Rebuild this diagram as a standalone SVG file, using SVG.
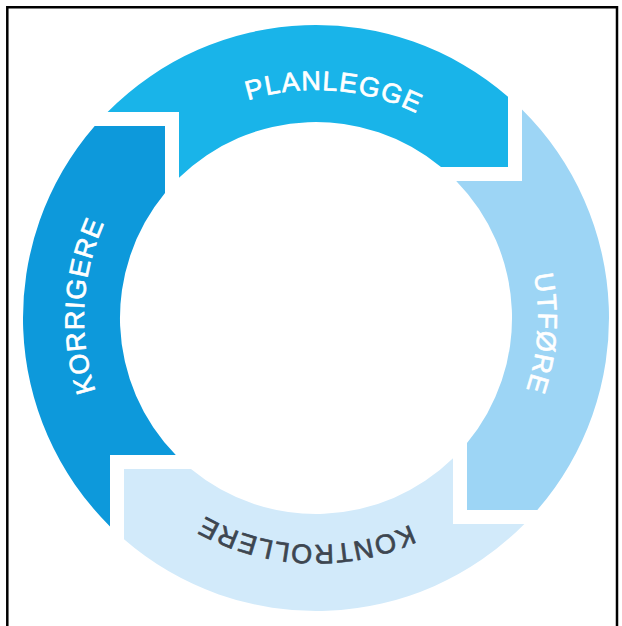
<svg xmlns="http://www.w3.org/2000/svg" xmlns:xlink="http://www.w3.org/1999/xlink" width="622" height="626" viewBox="0 0 622 626">
<style>
.lbl{font-family:"Liberation Sans",Arial,sans-serif;font-size:27px;letter-spacing:1.2px;text-anchor:middle;stroke-width:0.7px;stroke-linejoin:round}
.w{fill:#ffffff;stroke:#ffffff}
.d{fill:#3d4650;stroke:#3d4650}
.frame{fill:none;stroke:#000;stroke-width:2.5}
</style>
<defs>
<path id="tpPlan" d="M128.1,188.9 A228,228 0 0 1 521.8,219.8"/>
<path id="tpUtf" d="M439.8,133.7 A222,222 0 0 1 413.7,517.4"/>
<path id="tpKon" d="M507.5,440 A227,227 0 0 1 114.7,422.8"/>
<path id="tpKor" d="M189.6,512.6 A232,232 0 0 1 210.7,111.3"/>
</defs>
<rect width="622" height="626" fill="#ffffff"/>
<path class="frame" d="M7.3,626 V7.3 H617 V626"/>
<g id="connectors"></g>
<g id="planlegge">
<path fill="#19b4e9" d="M107.6,112 L179,112 L179,177.8 A196,196 0 0 1 441,167 L508,167 L508,96.7 A293,293 0 0 0 107.6,112 Z"/>
<text class="lbl w"><textPath xlink:href="#tpPlan" href="#tpPlan" startOffset="50%">PLANLEGGE</textPath></text>
</g>
<g id="utfore">
<path fill="#9dd5f5" d="M522,109.6 L522,181 L456.2,181 A196,196 0 0 1 467,443 L467,510 L537.3,510 A293,293 0 0 0 522,109.6 Z"/>
<text class="lbl w"><textPath xlink:href="#tpUtf" href="#tpUtf" startOffset="50%">UTFØRE</textPath></text>
</g>
<g id="kontrollere">
<path fill="#d2eafa" d="M524.4,524 L453,524 L453,458.2 A196,196 0 0 1 191,469 L124,469 L124,539.3 A293,293 0 0 0 524.4,524 Z"/>
<text class="lbl d"><textPath xlink:href="#tpKon" href="#tpKon" startOffset="50%">KONTROLLERE</textPath></text>
</g>
<g id="korrigere">
<path fill="#0d99db" d="M110,526.4 L110,455 L175.8,455 A196,196 0 0 1 165,193 L165,126 L94.7,126 A293,293 0 0 0 110,526.4 Z"/>
<text class="lbl w"><textPath xlink:href="#tpKor" href="#tpKor" startOffset="50%">KORRIGERE</textPath></text>
</g>
</svg>
